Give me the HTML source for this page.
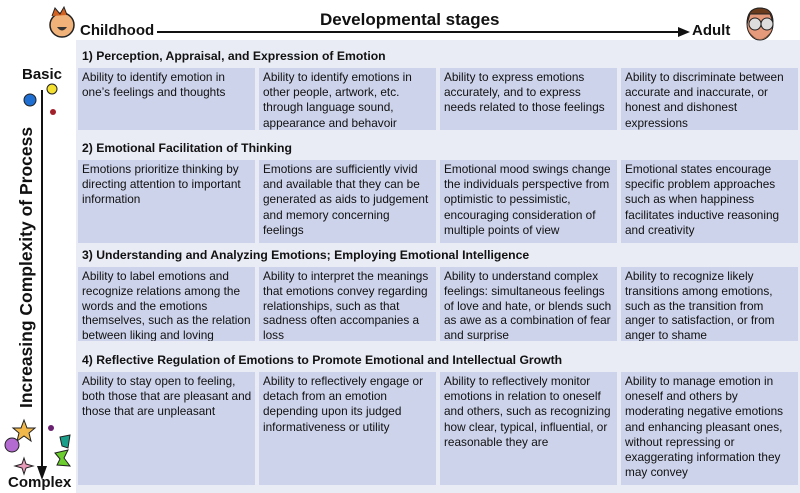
<!DOCTYPE html>
<html><head><meta charset="utf-8"><style>
*{margin:0;padding:0;box-sizing:border-box}
body{width:800px;height:493px;background:#fff;position:relative;overflow:hidden;font-family:"Liberation Sans",sans-serif;color:#111}
.band{position:absolute;left:76px;width:724px;background:#e9ecf5}
.hd{position:absolute;left:82px;font-weight:bold;font-size:12.2px}
.c{position:absolute;background:#cdd3ea;font-size:11.8px;line-height:15.2px;padding:2px 2px 2px 4px;width:177px;white-space:nowrap;overflow:hidden}
.t{position:absolute;font-weight:bold}
</style></head><body>
<div class="band" style="top:40px;height:453px"></div>
<div class="t" style="left:80px;top:22px;font-size:15px">Childhood</div>
<div class="t" style="left:320px;top:10px;font-size:17px">Developmental stages</div>
<div class="t" style="left:692px;top:22px;font-size:15px">Adult</div>
<svg style="position:absolute;left:0;top:0" width="800" height="493">
<line x1="157" y1="32" x2="680" y2="32" stroke="#111" stroke-width="2"/>
<polygon points="690,32 678,27 678,37" fill="#111"/>
<circle cx="62" cy="25" r="12" fill="#f1b27a" stroke="#222" stroke-width="1.5"/>
<path d="M52,16 L55,8 L60,14 L64,7 L67,15" fill="#d2601e" stroke="#222"/>
<path d="M57,27 Q62,34 67,27Z" fill="#333"/>
<ellipse cx="760" cy="24" rx="13" ry="16" fill="#e69a7c" stroke="#222"/>
<path d="M747,24 Q747,8 760,8 Q773,8 773,22 L770,14 L750,14Z" fill="#6b3b1e" stroke="#222"/>
<path d="M748,30 Q760,48 772,30 L768,36 Q760,42 752,36Z" fill="#6b3b1e"/>
<circle cx="755" cy="24" r="6" fill="#ddd" stroke="#222"/><circle cx="767" cy="24" r="6" fill="#ddd" stroke="#222"/>
<line x1="42" y1="90" x2="42" y2="470" stroke="#111" stroke-width="2"/>
<polygon points="42,480 37,466 47,466" fill="#111"/>
<circle cx="52" cy="89" r="5" fill="#f4e030" stroke="#222"/>
<circle cx="30" cy="100" r="6" fill="#1f6ed1" stroke="#222"/>
<circle cx="53" cy="112" r="3" fill="#a2202a"/>
<circle cx="51" cy="428" r="3" fill="#6a2070"/>
<polygon points="24,420 27,428 35,428 29,433 31,441 24,436 17,441 19,433 13,428 21,428" fill="#f2b84a" stroke="#222"/>
<circle cx="12" cy="445" r="7" fill="#b36ad1" stroke="#222"/>
<polygon points="60,437 70,435 68,448 62,446" fill="#1aa08a" stroke="#222"/>
<polygon points="55,453 68,450 64,458 70,466 57,465 60,459" fill="#6ccd2e" stroke="#222"/>
<polygon points="24,458 26,464 33,466 26,468 24,474 22,468 15,466 22,464" fill="#e89ab8" stroke="#222"/>
</svg>
<div class="t" style="left:22px;top:66px;font-size:15px">Basic</div>
<div class="t" style="left:8px;top:474px;font-size:15px">Complex</div>
<div class="t" style="left:16px;top:408px;font-size:17.5px;transform:rotate(-90deg);transform-origin:0 0;white-space:nowrap">Increasing Complexity of Process</div>

<div class="hd" style="top:49px">1) Perception, Appraisal, and Expression of Emotion</div>
<div class="c" style="left:78px;top:68px;height:62px">Ability to identify emotion in<br>one’s feelings and thoughts</div>
<div class="c" style="left:259px;top:68px;height:62px">Ability to identify emotions in<br>other people, artwork, etc.<br>through language sound,<br>appearance and behavoir</div>
<div class="c" style="left:440px;top:68px;height:62px">Ability to express emotions<br>accurately, and to express<br>needs related to those feelings</div>
<div class="c" style="left:621px;top:68px;height:62px">Ability to discriminate between<br>accurate and inaccurate, or<br>honest and dishonest<br>expressions</div>

<div class="hd" style="top:141px">2) Emotional Facilitation of Thinking</div>
<div class="c" style="left:78px;top:160px;height:83px">Emotions prioritize thinking by<br>directing attention to important<br>information</div>
<div class="c" style="left:259px;top:160px;height:83px">Emotions are sufficiently vivid<br>and available that they can be<br>generated as aids to judgement<br>and memory concerning<br>feelings</div>
<div class="c" style="left:440px;top:160px;height:83px">Emotional mood swings change<br>the individuals perspective from<br>optimistic to pessimistic,<br>encouraging consideration of<br>multiple points of view</div>
<div class="c" style="left:621px;top:160px;height:83px">Emotional states encourage<br>specific problem approaches<br>such as when happiness<br>facilitates inductive reasoning<br>and creativity</div>

<div class="hd" style="top:248px">3) Understanding and Analyzing Emotions; Employing Emotional Intelligence</div>
<div class="c" style="left:78px;top:267px;height:74px;line-height:14.8px">Ability to label emotions and<br>recognize relations among the<br>words and the emotions<br>themselves, such as the relation<br>between liking and loving</div>
<div class="c" style="left:259px;top:267px;height:74px;line-height:14.8px">Ability to interpret the meanings<br>that emotions convey regarding<br>relationships, such as that<br>sadness often accompanies a<br>loss</div>
<div class="c" style="left:440px;top:267px;height:74px;line-height:14.8px">Ability to understand complex<br>feelings: simultaneous feelings<br>of love and hate, or blends such<br>as awe as a combination of fear<br>and surprise</div>
<div class="c" style="left:621px;top:267px;height:74px;line-height:14.8px">Ability to recognize likely<br>transitions among emotions,<br>such as the transition from<br>anger to satisfaction, or from<br>anger to shame</div>

<div class="hd" style="top:353px">4) Reflective Regulation of Emotions to Promote Emotional and Intellectual Growth</div>
<div class="c" style="left:78px;top:372px;height:113px">Ability to stay open to feeling,<br>both those that are pleasant and<br>those that are unpleasant</div>
<div class="c" style="left:259px;top:372px;height:113px">Ability to reflectively engage or<br>detach from an emotion<br>depending upon its judged<br>informativeness or utility</div>
<div class="c" style="left:440px;top:372px;height:113px">Ability to reflectively monitor<br>emotions in relation to oneself<br>and others, such as recognizing<br>how clear, typical, influential, or<br>reasonable they are</div>
<div class="c" style="left:621px;top:372px;height:113px">Ability to manage emotion in<br>oneself and others by<br>moderating negative emotions<br>and enhancing pleasant ones,<br>without repressing or<br>exaggerating information they<br>may convey</div>
</body></html>
